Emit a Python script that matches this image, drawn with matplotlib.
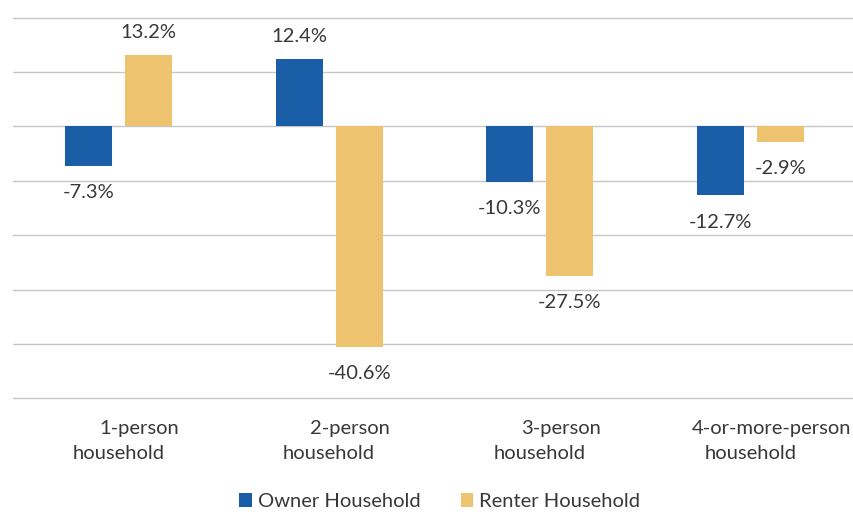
import numpy as np
import matplotlib
matplotlib.use("Agg")
import matplotlib.pyplot as plt
from matplotlib.patches import Patch

categories = ["1-person\nhousehold", "2-person\nhousehold", "3-person\nhousehold",
              "4-or-more-person\nhousehold"]
owner = [-7.3, 12.4, -10.3, -12.7]
renter = [13.2, -40.6, -27.5, -2.9]
series_names = ["Owner Household", "Renter Household"]
colors = ["#1B5EA8", "#EEC36F"]
text_color = "#383838"

plt.rcParams["font.family"] = ["Lato", "DejaVu Sans"]
fs = 14.5

fig = plt.figure(figsize=(8.54, 5.15), dpi=100)
ax = fig.add_axes([0.0152, 0.2242, 0.987, 0.7438])

x = np.arange(len(categories))
w = 0.223
off = 0.1425
b1 = ax.bar(x - off, owner, w, color=colors[0], zorder=3)
b2 = ax.bar(x + off, renter, w, color=colors[1], zorder=3)

for bars, vals in ((b1, owner), (b2, renter)):
    for rect, v in zip(bars, vals):
        cx = rect.get_x() + rect.get_width() / 2
        if v >= 0:
            ax.annotate(f"{v:.1f}%", (cx, v), xytext=(0, 12), textcoords="offset points",
                        ha="center", va="baseline", fontsize=fs, color=text_color)
        else:
            ax.annotate(f"{v:.1f}%", (cx, v), xytext=(0, -13), textcoords="offset points",
                        ha="center", va="top", fontsize=fs, color=text_color)

ax.set_xlim(-0.5, len(categories) - 0.5)
ax.set_ylim(-50.2, 20.2)
ax.set_yticks(np.arange(-50, 21, 10))
ax.yaxis.grid(True, color="#C6C6C6", linewidth=1.0, zorder=0)
ax.tick_params(axis="y", left=False, labelleft=False)
ax.tick_params(axis="x", bottom=False)
for s in ax.spines.values():
    s.set_visible(False)

# category labels: first line sits a little to the right of the second
ax.set_xticks(x)
ax.set_xticklabels([])
for xi, lab in zip(x, categories):
    top, bottom = lab.split("\n")
    ax.text(xi + 0.1, -55.6, top, ha="center", va="center", fontsize=fs, color=text_color)
    ax.text(xi, -60.2, bottom, ha="center", va="center", fontsize=fs, color=text_color)

handles = [Patch(facecolor=c, edgecolor="none") for c in colors]
fig.legend(handles, series_names, loc="center", bbox_to_anchor=(0.515, 0.026),
           ncol=2, frameon=False, fontsize=fs, handlelength=0.62, handleheight=0.62,
           handletextpad=0.3, columnspacing=2.0, labelcolor=text_color)

fig.savefig("out.png", dpi=100, facecolor="white")
